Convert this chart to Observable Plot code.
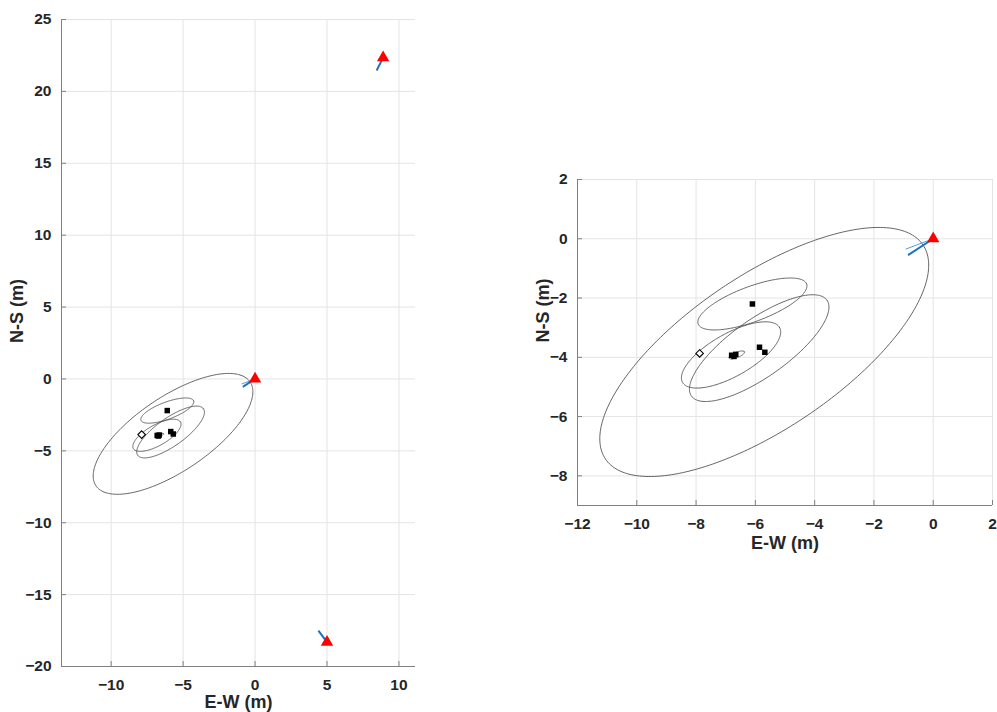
<!DOCTYPE html>
<html>
<head>
<meta charset="utf-8">
<script src="https://cdn.jsdelivr.net/npm/d3@7"></script>
<script src="https://cdn.jsdelivr.net/npm/@observablehq/plot@0.6"></script>
<style>
  body { margin: 0; background: #fff; }
  #fig { position: relative; width: 997px; height: 712px; overflow: hidden; }
  #fig svg { position: absolute; }
</style>
</head>
<body>
<div id="fig"></div>
<script>
// Stations (red triangles), E-W / N-S in metres
const stationX = [0, 8.9, 5.0];
const stationY = [0, 22.35, -18.3];

// Direction segments drawn from the stations
const beamFromX = [0, 0, 8.9, 5.0];
const beamFromY = [0, 0, 22.35, -18.3];
const beamToX = [-0.93, -0.85, 8.45, 4.4];
const beamToY = [-0.35, -0.55, 21.45, -17.5];
const beamKind = ["light", "dark", "dark", "dark"];

// Located source positions (filled squares)
const sourceX = [-6.1, -5.86, -5.68, -6.8, -6.72, -6.66];
const sourceY = [-2.2, -3.66, -3.83, -3.93, -3.97, -3.9];

// Reference position (open diamond)
const refX = [-7.88];
const refY = [-3.87];

// Error ellipses: centre, semi-axes and orientation (degrees from E)
const ellipseCx = [-5.7, -6.1, -5.87, -6.82, -6.63];
const ellipseCy = [-3.82, -2.2, -3.69, -3.92, -3.92];
const ellipseA = [6.46, 1.95, 2.8, 1.88, 0.28];
const ellipseB = [2.59, 0.594, 0.97, 0.72, 0.09];
const ellipseDeg = [34, 20.3, 35.3, 29.5, 22];

const fontFamily = '"Liberation Sans", Arial, Helvetica, sans-serif';

const stations = stationX.map((x, i) => ({x, y: stationY[i]}));
const beams = beamFromX.map((x1, i) => ({x1, y1: beamFromY[i], x2: beamToX[i], y2: beamToY[i], kind: beamKind[i]}));
const sources = sourceX.map((x, i) => ({x, y: sourceY[i]}));
const refs = refX.map((x, i) => ({x, y: refY[i]}));

// Outline points of each ellipse
const ellipsePts = [];
ellipseCx.forEach((cx, i) => {
  const t = ellipseDeg[i] * Math.PI / 180;
  const n = 240;
  for (let k = 0; k <= n; k++) {
    const s = 2 * Math.PI * k / n;
    const u = ellipseA[i] * Math.cos(s), v = ellipseB[i] * Math.sin(s);
    ellipsePts.push({
      id: i,
      x: cx + u * Math.cos(t) - v * Math.sin(t),
      y: ellipseCy[i] + u * Math.sin(t) + v * Math.cos(t)
    });
  }
});

function panel({xDomain, yDomain, xTicks, yTicks, width, height, margin, xLabelDy, yLabelDx}) {
  return Plot.plot({
    width, height,
    marginLeft: margin[0], marginTop: margin[1], marginRight: margin[2], marginBottom: margin[3],
    x: {domain: xDomain, label: null},
    y: {domain: yDomain, label: null},
    style: {fontFamily, fontSize: "15.5px", fontWeight: "bold", color: "#262626", background: "transparent", overflow: "visible"},
    marks: [
      Plot.gridX(xTicks, {stroke: "#e4e4e4", strokeOpacity: 1}),
      Plot.gridY(yTicks, {stroke: "#e4e4e4", strokeOpacity: 1}),
      Plot.line(ellipsePts, {x: "x", y: "y", z: "id", stroke: "#4a4a4a", strokeWidth: 0.85, clip: true}),
      Plot.link(beams.filter(d => d.kind === "light"), {x1: "x1", y1: "y1", x2: "x2", y2: "y2", stroke: "#4aa3df", strokeWidth: 1, clip: true}),
      Plot.link(beams.filter(d => d.kind === "dark"), {x1: "x1", y1: "y1", x2: "x2", y2: "y2", stroke: "#1f72bd", strokeWidth: 2, clip: true}),
      Plot.dot(sources, {x: "x", y: "y", symbol: "square", fill: "black", r: 3.1, clip: true}),
      Plot.dot(refs, {x: "x", y: "y", symbol: "diamond2", fill: "white", stroke: "black", strokeWidth: 1.1, r: 3.4, clip: true}),
      Plot.dot(stations, {x: "x", y: "y", symbol: "triangle", fill: "red", r: 4.6, clip: true}),
      Plot.ruleX([xDomain[0]], {stroke: "#808080"}),
      Plot.ruleY([yDomain[0]], {stroke: "#808080"}),
      Plot.axisX(xTicks, {tickSize: -5, tickPadding: 17, stroke: "#808080", fill: "#262626", label: null}),
      Plot.axisY(yTicks, {tickSize: -5, tickPadding: 15, stroke: "#808080", fill: "#262626", label: null}),
      Plot.text(["E-W (m)"], {text: d => d, frameAnchor: "bottom", dy: xLabelDy, fontSize: 18, fontWeight: "bold", fill: "#262626"}),
      Plot.text(["N-S (m)"], {text: d => d, frameAnchor: "left", dx: -yLabelDx, rotate: -90, fontSize: 18, fontWeight: "bold", fill: "#262626"})
    ]
  });
}

const left = panel({
  xDomain: [-13.45, 11.15], yDomain: [-20, 25],
  xTicks: [-10, -5, 0, 5, 10],
  yTicks: [-20, -15, -10, -5, 0, 5, 10, 15, 20, 25],
  width: 430, height: 712, margin: [61, 19, 15, 46],
  xLabelDy: 41, yLabelDx: 44
});
left.style.left = "0px";
left.style.top = "0px";

const right = panel({
  xDomain: [-12, 2], yDomain: [-9, 2],
  xTicks: [-12, -10, -8, -6, -4, -2, 0, 2],
  yTicks: [-8, -6, -4, -2, 0, 2],
  width: 467, height: 400, margin: [47, 19, 5, 55],
  xLabelDy: 43, yLabelDx: 34
});
right.style.left = "530px";
right.style.top = "160px";

const fig = document.getElementById("fig");
fig.appendChild(left);
fig.appendChild(right);
</script>
</body>
</html>
